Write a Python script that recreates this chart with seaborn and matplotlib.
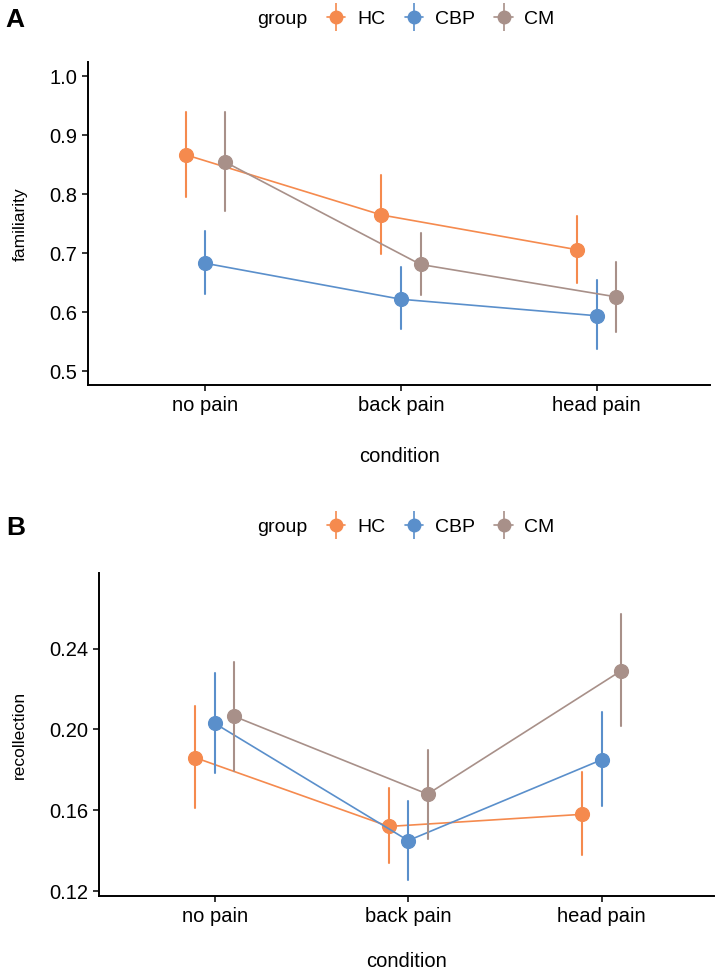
import matplotlib
matplotlib.use("Agg")
import matplotlib.pyplot as plt
from matplotlib.lines import Line2D
from matplotlib.legend_handler import HandlerTuple
import seaborn as sns
import pandas as pd

conditions = ["no pain", "back pain", "head pain"]
groups = ["HC", "CBP", "CM"]
colors = ["#F58A4E", "#5A8FCB", "#A89089"]

# familiarity: mean, lower, upper per group (order of conditions)
fam_mean = {"HC": [0.867, 0.765, 0.706], "CBP": [0.683, 0.622, 0.594], "CM": [0.855, 0.681, 0.626]}
fam_low = {"HC": [0.795, 0.699, 0.649], "CBP": [0.631, 0.572, 0.537], "CM": [0.771, 0.629, 0.567]}
fam_high = {"HC": [0.939, 0.832, 0.763], "CBP": [0.737, 0.676, 0.654], "CM": [0.940, 0.734, 0.686]}

# recollection
rec_mean = {"HC": [0.186, 0.152, 0.158], "CBP": [0.203, 0.145, 0.185], "CM": [0.2065, 0.168, 0.229]}
rec_low = {"HC": [0.161, 0.134, 0.138], "CBP": [0.1785, 0.1255, 0.162], "CM": [0.1795, 0.1456, 0.2018]}
rec_high = {"HC": [0.2115, 0.171, 0.179], "CBP": [0.228, 0.1647, 0.2085], "CM": [0.2336, 0.190, 0.2573]}


def long_table(mean, low, high):
    rows = []
    for g in groups:
        for i, c in enumerate(conditions):
            for v in (low[g][i], mean[g][i], high[g][i]):
                rows.append({"condition": c, "group": g, "value": v})
    return pd.DataFrame(rows)


sns.set_theme(style="ticks")
plt.rcParams["font.family"] = ["Liberation Sans", "DejaVu Sans"]
plt.rcParams["text.color"] = "black"

fig = plt.figure(figsize=(7.21, 9.73), dpi=100)
ax1 = fig.add_axes([0.122, 0.604, 0.863, 0.332])
ax2 = fig.add_axes([0.137, 0.079, 0.853, 0.332])

panels = [
    (ax1, long_table(fam_mean, fam_low, fam_high), "familiarity",
     (0.476, 1.024), [0.5, 0.6, 0.7, 0.8, 0.9, 1.0], "{:.1f}", 23),
    (ax2, long_table(rec_mean, rec_low, rec_high), "recollection",
     (0.1175, 0.2774), [0.12, 0.16, 0.20, 0.24], "{:.2f}", 19),
]

for ax, df, ylab, ylim, yticks, fmt, xpad in panels:
    sns.pointplot(data=df, x="condition", y="value", hue="group",
                  order=conditions, hue_order=groups, palette=colors,
                  estimator="median", errorbar=lambda v: (v.min(), v.max()),
                  dodge=0.2, markersize=10, linewidth=1.2, err_kws={"linewidth": 1.5},
                  ax=ax, legend=False)
    ax.set_xlim(-0.6, 2.58)
    ax.set_ylim(*ylim)
    ax.set_yticks(yticks)
    ax.set_yticklabels([fmt.format(t) for t in yticks])
    ax.set_ylabel(ylab, fontsize=12.5, labelpad=16, color="black")
    ax.set_xlabel("condition", fontsize=14.5, labelpad=xpad, color="black")
    ax.tick_params(labelsize=14.5, colors="black", length=4, width=1.1)
    for s in ["left", "bottom"]:
        ax.spines[s].set_linewidth(1.4)
        ax.spines[s].set_color("black")
    sns.despine(ax=ax)

# panel letters and legends
for ytop, letter in [(0.979, "A"), (0.457, "B")]:
    fig.text(0.008, ytop, letter, fontsize=19, fontweight="bold", va="center", color="black")
    fig.text(0.357, ytop + 0.001, "group", fontsize=14, va="center", color="black")
    handles = []
    for c in colors:
        h1 = Line2D([], [], color=c, marker="o", markersize=9, linewidth=1.2)
        h2 = Line2D([], [], color=c, marker="|", markersize=20, markeredgewidth=1.2, linestyle="none")
        handles.append((h1, h2))
    fig.legend(handles, groups, handler_map={tuple: HandlerTuple(ndivide=1)},
               loc="center left", bbox_to_anchor=(0.4535, ytop + 0.001), ncol=3, frameon=False,
               fontsize=14, handlelength=0.95, columnspacing=1.0, handletextpad=0.6,
               borderpad=0, borderaxespad=0, labelcolor="black")

plt.savefig("out.png", dpi=100)
